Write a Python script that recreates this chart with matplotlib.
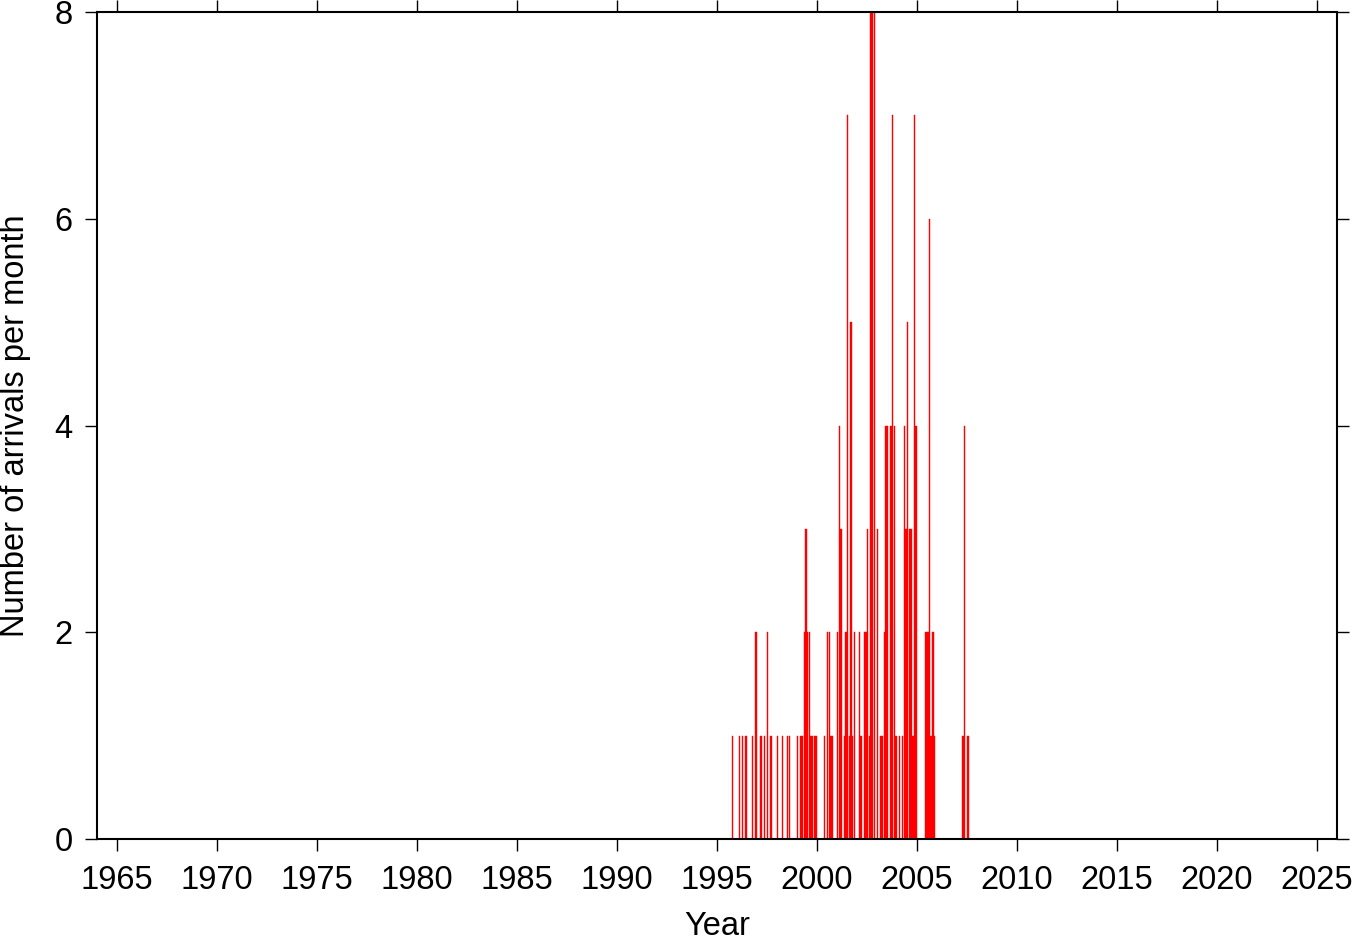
import numpy as np
import matplotlib.pyplot as plt

# Monthly arrival counts (year, month, count)
years = [1995, 1996, 1996, 1996, 1996, 1996, 1997, 1997, 1997, 1997, 1997,
         1998, 1998, 1998, 1998, 1999, 1999, 1999, 1999, 1999, 1999, 1999,
         1999, 1999, 1999, 2000, 2000, 2000, 2000, 2000, 2000, 2001, 2001,
         2001, 2001, 2001, 2001, 2001, 2001, 2001, 2002, 2002, 2002, 2002,
         2002, 2002, 2002, 2002, 2002, 2002, 2003, 2003, 2003, 2003, 2003,
         2003, 2003, 2003, 2003, 2004, 2004, 2004, 2004, 2004, 2004, 2004,
         2004, 2004, 2004, 2005, 2005, 2005, 2005, 2005, 2005, 2007, 2007,
         2007]
months = [9, 1, 3, 5, 9, 11, 2, 4, 6, 8, 12,
          3, 6, 7, 12, 2, 3, 4, 5, 6, 7, 8,
          9, 10, 11, 4, 6, 7, 8, 9, 12, 1, 2,
          4, 5, 6, 7, 8, 9, 10, 1, 2, 4, 5,
          6, 7, 8, 9, 10, 12, 2, 3, 4, 5, 6,
          8, 9, 10, 11, 1, 3, 4, 5, 6, 7, 8,
          9, 10, 11, 5, 6, 7, 8, 9, 10, 3, 4,
          6]
counts = [1, 1, 1, 1, 1, 2, 1, 1, 2, 1, 1,
          1, 1, 1, 1, 1, 1, 2, 3, 2, 2, 1,
          1, 1, 1, 1, 2, 2, 1, 1, 2, 4, 3,
          1, 2, 7, 1, 5, 1, 2, 2, 1, 2, 2,
          3, 1, 8, 8, 8, 3, 1, 1, 2, 4, 4,
          4, 7, 4, 1, 1, 1, 4, 3, 5, 3, 3,
          1, 7, 4, 2, 2, 6, 1, 2, 1, 1, 4,
          1]

# bar position in decimal years
x = np.array(years) + (np.array(months) + 0.4) / 12.0

plt.rcParams['font.family'] = ['Liberation Sans', 'DejaVu Sans']

fig = plt.figure(figsize=(13.63, 9.42), dpi=100)
ax = fig.add_axes([0.0712, 0.1093, 0.9098, 0.878])

ax.bar(x, counts, width=0.9 / 12, color='red', edgecolor='red', linewidth=0.3)

ax.set_xlim(1964, 2026)
ax.set_ylim(0, 8)
ax.set_xticks(np.arange(1965, 2026, 5))
ax.set_yticks([0, 2, 4, 6, 8])

for s in ax.spines.values():
    s.set_linewidth(1.5)
ax.tick_params(direction='out', length=8.5, width=1, labelsize=23.5,
               top=True, right=True, pad=9)
ax.tick_params(axis='x', pad=10)

ax.set_xlabel('Year', fontsize=23.5, labelpad=11)
ax.set_ylabel('Number of arrivals per month', fontsize=23.5, labelpad=17)

fig.savefig('out.png', dpi=100)
